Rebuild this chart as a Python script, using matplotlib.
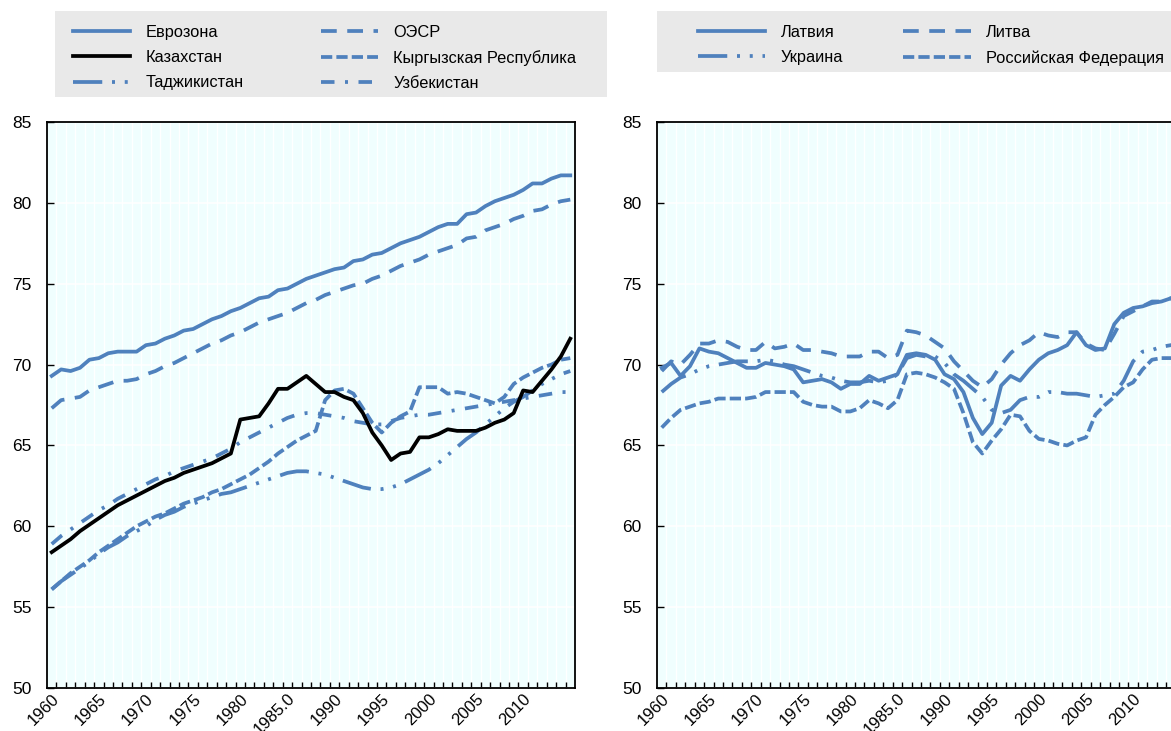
import matplotlib.pyplot as plt
from matplotlib.patches import Rectangle
from matplotlib.ticker import FixedLocator

years = list(range(1960, 2016))
tick_years = [1960, 1965, 1970, 1975, 1980, 1985, 1990, 1995, 2000, 2005, 2010]
tick_labels = ["1960", "1965", "1970", "1975", "1980", "1985.0",
               "1990", "1995", "2000", "2005", "2010"]

# left panel
eurozone = [69.3, 69.7, 69.6, 69.8, 70.3, 70.4, 70.7, 70.8, 70.8, 70.8,
            71.2, 71.3, 71.6, 71.8, 72.1, 72.2, 72.5, 72.8, 73.0, 73.3,
            73.5, 73.8, 74.1, 74.2, 74.6, 74.7, 75.0, 75.3, 75.5, 75.7,
            75.9, 76.0, 76.4, 76.5, 76.8, 76.9, 77.2, 77.5, 77.7, 77.9,
            78.2, 78.5, 78.7, 78.7, 79.3, 79.4, 79.8, 80.1, 80.3, 80.5,
            80.8, 81.2, 81.2, 81.5, 81.7, 81.7]
oecd = [67.3, 67.8, 67.9, 68.0, 68.4, 68.6, 68.8, 69.0, 69.0, 69.1,
        69.4, 69.6, 69.9, 70.1, 70.4, 70.7, 71.0, 71.3, 71.5, 71.8,
        72.0, 72.3, 72.6, 72.8, 73.0, 73.2, 73.5, 73.8, 74.0, 74.3,
        74.5, 74.7, 74.9, 75.0, 75.3, 75.5, 75.8, 76.1, 76.3, 76.5,
        76.8, 77.0, 77.2, 77.4, 77.8, 77.9, 78.3, 78.5, 78.7, 79.0,
        79.2, 79.5, 79.6, 79.9, 80.1, 80.2]
kazakhstan = [58.4, 58.8, 59.2, 59.7, 60.1, 60.5, 60.9, 61.3, 61.6, 61.9,
              62.2, 62.5, 62.8, 63.0, 63.3, 63.5, 63.7, 63.9, 64.2, 64.5,
              66.6, 66.7, 66.8, 67.6, 68.5, 68.5, 68.9, 69.3, 68.8, 68.3,
              68.3, 68.0, 67.8, 67.0, 65.8, 65.0, 64.1, 64.5, 64.6, 65.5,
              65.5, 65.7, 66.0, 65.9, 65.9, 65.9, 66.1, 66.4, 66.6, 67.0,
              68.4, 68.3, 69.0, 69.7, 70.5, 71.6]
kyrgyz = [56.1, 56.6, 57.1, 57.5, 57.9, 58.4, 58.8, 59.2, 59.6, 60.0,
          60.3, 60.6, 60.8, 61.1, 61.4, 61.6, 61.8, 62.1, 62.3, 62.6,
          62.9, 63.2, 63.6, 64.0, 64.5, 64.9, 65.3, 65.6, 65.9, 67.8,
          68.4, 68.5, 68.2, 67.3, 66.4, 65.8, 66.4, 66.8, 67.1, 68.6,
          68.6, 68.6, 68.2, 68.3, 68.2, 68.0, 67.8, 67.6, 68.0, 68.8,
          69.2, 69.5, 69.8, 70.0, 70.3, 70.4]
tajikistan = [56.1, 56.6, 57.0, 57.4, 57.8, 58.3, 58.7, 59.0, 59.4, 59.7,
              60.0, 60.4, 60.7, 60.9, 61.2, 61.4, 61.6, 61.8, 62.0, 62.1,
              62.3, 62.5, 62.7, 62.9, 63.1, 63.3, 63.4, 63.4, 63.3, 63.2,
              63.0, 62.8, 62.6, 62.4, 62.3, 62.3, 62.4, 62.6, 62.9, 63.2,
              63.5, 63.9, 64.4, 64.9, 65.4, 65.8, 66.3, 66.8, 67.3, 67.7,
              68.0, 68.4, 68.8, 69.1, 69.4, 69.6]
uzbekistan = [58.9, 59.4, 59.8, 60.2, 60.6, 61.0, 61.3, 61.7, 62.0, 62.3,
              62.6, 62.9, 63.1, 63.4, 63.6, 63.8, 64.0, 64.2, 64.5, 64.8,
              65.2, 65.5, 65.8, 66.1, 66.4, 66.7, 66.9, 67.0, 67.0, 66.9,
              66.8, 66.7, 66.5, 66.4, 66.3, 66.3, 66.5, 66.7, 66.8, 66.9,
              66.9, 67.0, 67.1, 67.2, 67.3, 67.4, 67.5, 67.6, 67.7, 67.8,
              67.9, 68.0, 68.1, 68.2, 68.3, 68.3]

# right panel
latvia = [69.8, 70.1, 69.3, 69.9, 71.0, 70.8, 70.7, 70.4, 70.1, 69.8,
          69.8, 70.1, 70.0, 69.9, 69.7, 68.9, 69.0, 69.1, 68.9, 68.5,
          68.8, 68.8, 69.3, 69.0, 69.2, 69.4, 70.6, 70.7, 70.6, 70.3,
          69.4, 69.1, 68.3, 66.7, 65.7, 66.4, 68.7, 69.3, 69.0, 69.7,
          70.3, 70.7, 70.9, 71.2, 72.0, 71.2, 70.9, 71.0, 72.5, 73.2,
          73.5, 73.6, 73.8, 73.9, 74.1, 74.2]
lithuania = [69.6, 70.2, 70.0, 70.6, 71.3, 71.3, 71.5, 71.4, 71.1, 70.9,
             70.9, 71.4, 71.0, 71.1, 71.3, 70.9, 70.9, 70.8, 70.7, 70.5,
             70.5, 70.5, 70.8, 70.8, 70.4, 70.6, 72.1, 72.0, 71.8, 71.4,
             71.0, 70.2, 69.6, 69.0, 68.6, 69.1, 70.0, 70.7, 71.2, 71.5,
             72.0, 71.8, 71.7, 72.0, 72.0, 71.3, 71.0, 70.9, 71.9, 73.0,
             73.3, 73.6, 73.9, 73.9, 74.1, 74.3]
ukraine = [68.3, 68.8, 69.2, 69.4, 69.7, 69.9, 70.0, 70.1, 70.2, 70.2,
           70.2, 70.3, 70.2, 70.0, 69.9, 69.7, 69.5, 69.3, 69.2, 69.0,
           68.9, 68.9, 69.0, 68.9, 69.0, 69.4, 70.4, 70.6, 70.5, 70.5,
           70.1, 69.4, 69.0, 68.5, 68.0, 67.2, 67.0, 67.2, 67.8, 68.0,
           68.0, 68.3, 68.3, 68.2, 68.2, 68.1, 68.0, 68.1, 68.2, 69.0,
           70.2, 70.8, 70.9, 71.1, 71.2, 71.3]
russia = [66.1, 66.7, 67.2, 67.4, 67.6, 67.7, 67.9, 67.9, 67.9, 67.9,
          68.0, 68.3, 68.3, 68.3, 68.3, 67.7, 67.5, 67.4, 67.4, 67.1,
          67.1, 67.3, 67.8, 67.6, 67.3, 67.8, 69.4, 69.5, 69.4, 69.2,
          68.9, 68.5, 67.0, 65.2, 64.5, 65.3, 66.0, 66.9, 66.8, 65.9,
          65.4, 65.3, 65.1, 65.0, 65.3, 65.5, 66.9, 67.5, 68.0, 68.6,
          68.9, 69.7, 70.3, 70.4, 70.4, 70.4]

blue = "#4F81BD"
lw = 2.7
solid = "-"
dashed = (0, (4.2, 2.8))
short_dash = (0, (3.0, 1.1))
dash_dot = (0, (3.6, 2.8, 0.8, 2.8))
dash_dot_dot = (0, (7.8, 2.6, 0.8, 2.6, 0.8, 2.6))

plt.rcParams["font.family"] = ["Liberation Sans", "DejaVu Sans"]
plt.rcParams["font.size"] = 12.5

fig = plt.figure(figsize=(11.71, 7.31), dpi=100)
W, H = 1171.0, 731.0


def style_axes(ax):
    ax.set_facecolor("#F0FEFE")
    ax.set_xlim(1959.5, 2015.5)
    ax.set_ylim(50, 85)
    ax.set_yticks(range(50, 90, 5))
    ax.xaxis.set_major_locator(FixedLocator(tick_years))
    ax.set_xticklabels(tick_labels, rotation=45, ha="right",
                       rotation_mode="anchor")
    ax.xaxis.set_minor_locator(FixedLocator([y + 0.5 for y in years[:-1]]))
    ax.tick_params(axis="x", which="major", length=0, pad=2, labelsize=12)
    ax.tick_params(axis="x", which="minor", direction="in", length=4,
                   width=1, color="black")
    ax.tick_params(axis="y", direction="in", length=5, width=1, pad=11,
                   labelsize=12.5)
    ax.grid(True, axis="y", color="white", linewidth=1.2)
    ax.grid(True, axis="x", which="minor", color="white", linewidth=1.0)
    ax.set_axisbelow(True)
    for s in ax.spines.values():
        s.set_color("black")
        s.set_linewidth(1.3)


# axes boxes measured in pixels (left, top, right, bottom)
def px_axes(x0, y0, x1, y1):
    return fig.add_axes([x0 / W, 1 - y1 / H, (x1 - x0) / W, (y1 - y0) / H])


ax1 = px_axes(47, 122, 575, 688)
ax2 = px_axes(657, 122, 1185, 688)
style_axes(ax1)
style_axes(ax2)

# left panel lines
ax1.plot(years, eurozone, color=blue, lw=lw, ls=solid, label="Еврозона")
ax1.plot(years, oecd, color=blue, lw=lw, ls=dashed, label="ОЭСР")
ax1.plot(years, tajikistan, color=blue, lw=lw, ls=dash_dot_dot,
         label="Таджикистан")
ax1.plot(years, kyrgyz, color=blue, lw=lw, ls=short_dash,
         label="Кыргызская Республика")
ax1.plot(years, uzbekistan, color=blue, lw=lw, ls=dash_dot,
         label="Узбекистан")
ax1.plot(years, kazakhstan, color="black", lw=lw, ls=solid,
         label="Казахстан")

# right panel lines
ax2.plot(years, russia, color=blue, lw=lw, ls=short_dash,
         label="Российская Федерация")
ax2.plot(years, ukraine, color=blue, lw=lw, ls=dash_dot_dot, label="Украина")
ax2.plot(years, lithuania, color=blue, lw=lw, ls=dashed, label="Литва")
ax2.plot(years, latvia, color=blue, lw=lw, ls=solid, label="Латвия")

# grey legend boxes
fig.patches.append(Rectangle((55 / W, 1 - 97 / H), 552 / W, 86 / H,
                             transform=fig.transFigure, facecolor="#E9E9E9",
                             edgecolor="none", zorder=0))
fig.patches.append(Rectangle((657 / W, 1 - 72 / H), 530 / W, 61 / H,
                             transform=fig.transFigure, facecolor="#E9E9E9",
                             edgecolor="none", zorder=0))

h1, l1 = ax1.get_legend_handles_labels()
order1 = ["Еврозона", "Казахстан", "Таджикистан", "ОЭСР",
          "Кыргызская Республика", "Узбекистан"]
hd1 = dict(zip(l1, h1))
fig.legend([hd1[k] for k in order1], order1, ncol=2, loc="upper left",
           bbox_to_anchor=(73 / W, 1 - 25 / H), frameon=False, borderpad=0,
           borderaxespad=0, handlelength=3.5, handletextpad=0.93,
           columnspacing=4.7, labelspacing=0.62, fontsize=11.8)

h2, l2 = ax2.get_legend_handles_labels()
order2 = ["Латвия", "Украина", "Литва", "Российская Федерация"]
hd2 = dict(zip(l2, h2))
fig.legend([hd2[k] for k in order2], order2, ncol=2, loc="upper left",
           bbox_to_anchor=(698 / W, 1 - 25 / H), frameon=False, borderpad=0,
           borderaxespad=0, handlelength=4.1, handletextpad=0.93,
           columnspacing=3.7, labelspacing=0.62, fontsize=11.8)

fig.savefig("out.png", dpi=100)
